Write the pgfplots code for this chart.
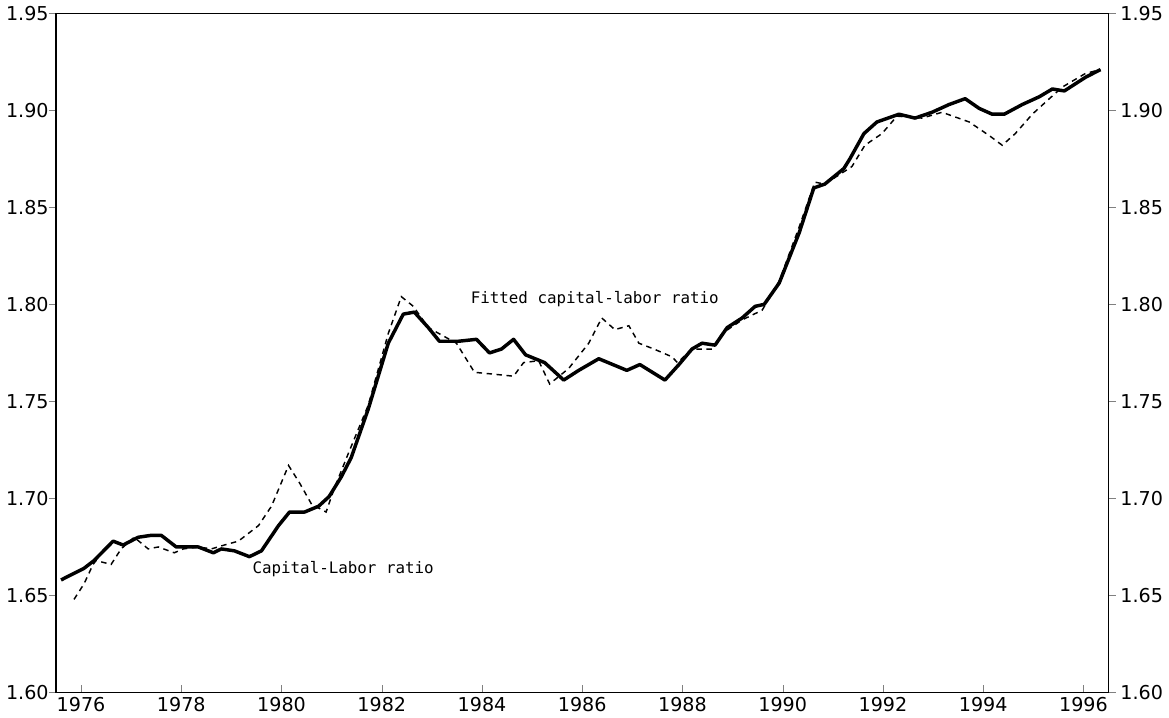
\documentclass[border=0pt]{standalone}
\usepackage{fontspec}
\setmainfont{DejaVu Sans}
\newfontfamily\annofont{DejaVu Sans Mono}
\usepackage{pgfplots}
\pgfplotsset{compat=1.18}

% quarterly series, x in decimal years
\pgfplotstableread{
x y
1976.10 1.658
1976.56 1.664
1976.76 1.668
1977.14 1.678
1977.34 1.676
1977.64 1.680
1977.90 1.681
1978.10 1.681
1978.40 1.675
1978.84 1.675
1979.14 1.672
1979.30 1.674
1979.56 1.673
1979.86 1.670
1980.10 1.673
1980.44 1.686
1980.66 1.693
1980.96 1.693
1981.24 1.696
1981.45 1.701
1981.69 1.711
1981.89 1.721
1982.23 1.746
1982.63 1.780
1982.93 1.795
1983.15 1.796
1983.43 1.788
1983.65 1.781
1984.03 1.781
1984.39 1.782
1984.65 1.775
1984.89 1.777
1985.13 1.782
1985.37 1.774
1985.75 1.770
1986.13 1.761
1986.43 1.766
1986.83 1.772
1987.39 1.766
1987.65 1.769
1988.15 1.761
1988.43 1.769
1988.69 1.777
1988.89 1.780
1989.15 1.779
1989.39 1.788
1989.69 1.793
1989.95 1.799
1990.13 1.800
1990.43 1.811
1990.83 1.837
1991.12 1.860
1991.34 1.862
1991.72 1.870
1991.84 1.875
1992.12 1.888
1992.38 1.894
1992.82 1.898
1993.14 1.896
1993.48 1.899
1993.82 1.903
1994.14 1.906
1994.42 1.901
1994.68 1.898
1994.92 1.898
1995.28 1.903
1995.62 1.907
1995.88 1.911
1996.12 1.910
1996.54 1.917
1996.84 1.921
}\actual

\pgfplotstableread{
x y
1976.36 1.648
1976.56 1.656
1976.74 1.666
1976.80 1.668
1977.10 1.666
1977.30 1.674
1977.56 1.680
1977.84 1.674
1978.04 1.675
1978.36 1.672
1978.54 1.674
1978.84 1.675
1979.10 1.674
1979.36 1.676
1979.64 1.678
1980.04 1.686
1980.30 1.696
1980.64 1.717
1980.86 1.708
1981.10 1.697
1981.39 1.693
1981.55 1.705
1981.83 1.723
1982.23 1.748
1982.63 1.785
1982.89 1.804
1983.13 1.799
1983.43 1.788
1983.99 1.780
1984.35 1.765
1984.75 1.764
1985.13 1.763
1985.33 1.770
1985.63 1.771
1985.85 1.759
1986.23 1.767
1986.63 1.780
1986.89 1.793
1987.15 1.787
1987.43 1.789
1987.63 1.780
1987.93 1.777
1988.29 1.773
1988.40 1.770
1988.69 1.777
1989.09 1.777
1989.29 1.785
1989.69 1.792
1990.09 1.797
1990.43 1.812
1990.83 1.840
1991.14 1.863
1991.34 1.862
1991.88 1.871
1992.14 1.882
1992.48 1.888
1992.78 1.897
1993.28 1.896
1993.68 1.899
1994.22 1.894
1994.62 1.887
1994.88 1.882
1995.14 1.888
1995.48 1.898
1995.82 1.906
1996.08 1.912
1996.54 1.919
1996.84 1.921
}\fitted

\pgfplotsset{
    base/.style={
        scale only axis,
        width=578pt, height=373pt,
        xmin=1976, xmax=1997,
        ymin=1.60, ymax=1.95,
        axis line style={line width=0.8pt},
        ticklabel style={font=\fontsize{10.5}{12}\selectfont},
        /pgf/number format/assume math mode=true,
        yticklabel style={/pgf/number format/fixed,
            /pgf/number format/fixed zerofill,
            /pgf/number format/precision=2},
        ytick={1.60,1.65,...,1.95},
    },
}

\begin{document}
\begin{tikzpicture}
    \begin{axis}[
        base,
        tick align=inside,
        xtick={1976.5,1978.5,...,1996.5},
        xticklabels={1976,1978,1980,1982,1984,1986,1988,1990,1992,1994,1996},
        minor x tick num=3,
        xtick pos=bottom,
        ytick=\empty,
        major tick length=4pt, minor tick length=3pt,
        xticklabel style={yshift=1pt},
    ]
    \addplot[black, line width=0.8pt, dash pattern=on 3pt off 2.5pt] table {\fitted};
    \addplot[black, line width=1.9pt, line join=round] table {\actual};
    \node[font=\annofont\fontsize{8.7}{10}\selectfont] at (axis cs:1986.75,1.8026) {Fitted capital-labor ratio};
    \node[font=\annofont\fontsize{8.7}{10}\selectfont] at (axis cs:1981.73,1.6634) {Capital-Labor ratio};
    \end{axis}
    \begin{axis}[
        base,
        hide x axis,
        tick align=outside,
        major tick length=4pt,
        ytick pos=both,
        yticklabel pos=left,
        yticklabel style={xshift=3.5pt},
    ]
    \end{axis}
    \begin{axis}[
        base,
        hide x axis,
        axis y line*=right,
        tick align=outside,
        major tick length=4pt,
        yticklabel pos=right,
        yticklabel style={xshift=-1pt},
    ]
    \end{axis}
\end{tikzpicture}
\end{document}
